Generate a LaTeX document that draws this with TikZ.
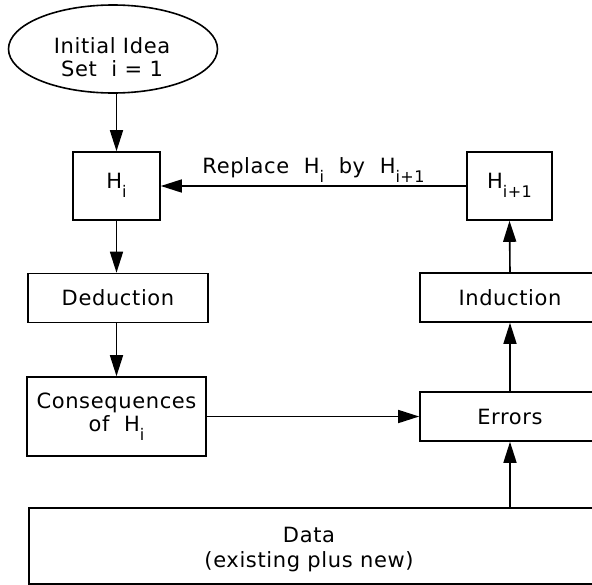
\documentclass[tikz,border=0pt]{standalone}
\usepackage{fontspec}
\setmainfont[LetterSpace=3]{DejaVu Sans}
\usetikzlibrary{shapes.geometric,arrows.meta}
\newcommand\sbs[1]{\raisebox{-9pt}{\fontsize{16}{16}\selectfont #1}}
\begin{document}
\begin{tikzpicture}[x=1pt,y=-1pt,
  box/.style={draw,line width=1.6pt,inner sep=0pt,align=center,font=\fontsize{21}{23}\selectfont},
  hbox/.style={box,text height=15pt,text depth=11pt},
  lbl/.style={inner sep=0pt,align=center,font=\fontsize{21}{25}\selectfont},
  arr/.style={line width=1.6pt,-{Triangle[length=21pt,width=13pt]}}]
\clip (0,0) rectangle (592,584);
\fill[white] (0,0) rectangle (592,584);
\node[box,ellipse,minimum width=209,minimum height=88] (idea) at (113,49) {};
\node[lbl,font=\fontsize{21}{23}\selectfont] (ideatext) at (112,57) {Initial Idea\\Set \ i = 1};
\node[hbox,minimum width=87,minimum height=68] (hi) at (116.5,186) {H\sbs{i}};
\node[box,minimum width=180,minimum height=49] (ded) at (118,298) {Deduction};
\node[box,minimum width=179,minimum height=79] (cons) at (116.5,416.5) {Consequences\\of \ H\sbs{i}};
\node[hbox,minimum width=85,minimum height=68] (hip) at (509.5,186) {H\sbs{i+1}};
\node[box,minimum width=180,minimum height=49] (ind) at (510,297.5) {Induction};
\node[box,minimum width=180,minimum height=49] (err) at (510,416.5) {Errors};
\node[box,minimum width=590,minimum height=76,anchor=north west] (data) at (28,507) {};
\node[lbl] (datatext) at (309,550) {Data\\(existing plus new)};
\draw[arr] (idea.south -| hi.north) -- (hi.north);
\draw[arr] (hi.south) -- (hi.south |- ded.north);
\draw[arr] (ded.south -| hi.south) -- (cons.north -| hi.south);
\draw[arr] (cons.east) -- (err.west);
\draw[arr] (data.north -| err.south) -- (err.south);
\draw[arr] (err.north) -- (ind.south);
\draw[arr] (ind.north) -- (hip.south);
\draw[arr] (hip.west) -- node[lbl,anchor=base,yshift=13pt] (rep) {Replace \ H\sbs{i} \ by \ H\sbs{i+1}} (hi.east);
\end{tikzpicture}
\end{document}
